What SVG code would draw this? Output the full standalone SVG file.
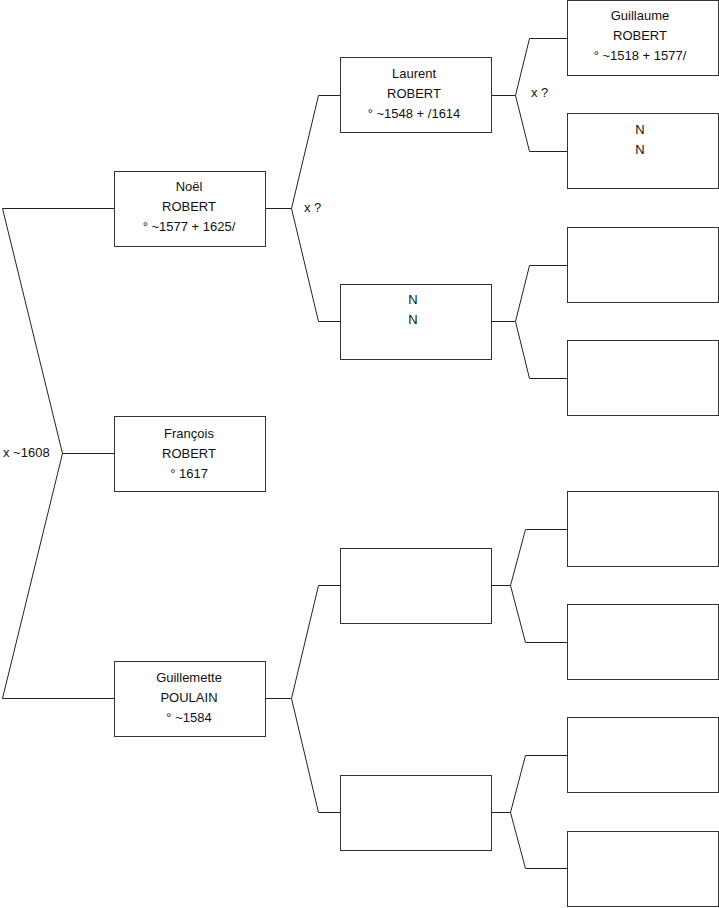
<svg xmlns="http://www.w3.org/2000/svg" width="719" height="908" viewBox="0 0 719 908">
<style>
.box{fill:#fff;stroke:#333;stroke-width:1}
.ln{fill:none;stroke:#222;stroke-width:1}
text{font-family:"Liberation Sans",Arial,sans-serif;font-size:13px;fill:#111}
.c{text-anchor:middle}
</style>
<rect width="719" height="908" fill="#fff"/>
<g id="connectors">
<polyline class="ln" points="114,208.5 2.5,208.5 62.5,453.5 2.5,698.5 114,698.5"/>
<line class="ln" x1="62.5" y1="453.5" x2="114" y2="453.5"/>
<polyline class="ln" points="341,95.5 318.5,95.5 291.5,208.5 318.5,321.5 341,321.5"/>
<line class="ln" x1="265" y1="208.5" x2="291.5" y2="208.5"/>
<polyline class="ln" points="341,585.5 318.5,585.5 291.5,698.5 318.5,812.5 341,812.5"/>
<line class="ln" x1="265" y1="698.5" x2="291.5" y2="698.5"/>
<polyline class="ln" points="567,38.5 529.5,38.5 515.5,95.5 529.5,151.5 567,151.5"/>
<line class="ln" x1="492" y1="95.5" x2="515.5" y2="95.5"/>
<polyline class="ln" points="567,265.5 529.5,265.5 515.5,321.5 529.5,378.5 567,378.5"/>
<line class="ln" x1="492" y1="321.5" x2="515.5" y2="321.5"/>
<polyline class="ln" points="567,529.5 525.5,529.5 510.5,585.5 525.5,642.5 567,642.5"/>
<line class="ln" x1="492" y1="585.5" x2="510.5" y2="585.5"/>
<polyline class="ln" points="567,755.5 525.5,755.5 510.5,812.5 525.5,868.5 567,868.5"/>
<line class="ln" x1="492" y1="812.5" x2="510.5" y2="812.5"/>
<text x="3" y="457">x ~1608</text>
<text x="304" y="212">x ?</text>
<text x="531" y="97">x ?</text>
</g>
<g id="noel"><rect class="box" x="114.5" y="171.5" width="151" height="75"/>
<text class="c" x="189" y="191">Noël</text><text class="c" x="189" y="211">ROBERT</text><text class="c" x="189" y="231">° ~1577 + 1625/</text></g>
<g id="francois"><rect class="box" x="114.5" y="416.5" width="151" height="75"/>
<text class="c" x="189" y="438">François</text><text class="c" x="189" y="458">ROBERT</text><text class="c" x="189" y="478">° 1617</text></g>
<g id="guillemette"><rect class="box" x="114.5" y="661.5" width="151" height="75"/>
<text class="c" x="189" y="682">Guillemette</text><text class="c" x="189" y="702">POULAIN</text><text class="c" x="189" y="722">° ~1584</text></g>
<g id="laurent"><rect class="box" x="340.5" y="57.5" width="151" height="75"/>
<text class="c" x="414" y="78">Laurent</text><text class="c" x="414" y="98">ROBERT</text><text class="c" x="414" y="118">° ~1548 + /1614</text></g>
<g id="nn1"><rect class="box" x="340.5" y="284.5" width="151" height="75"/>
<text class="c" x="413" y="304">N</text><text class="c" x="413" y="324">N</text></g>
<g id="p3"><rect class="box" x="340.5" y="548.5" width="151" height="75"/></g>
<g id="p4"><rect class="box" x="340.5" y="775.5" width="151" height="75"/></g>
<g id="guillaume"><rect class="box" x="567.5" y="0.5" width="151" height="75"/>
<text class="c" x="640" y="20">Guillaume</text><text class="c" x="640" y="40">ROBERT</text><text class="c" x="640" y="60">° ~1518 + 1577/</text></g>
<g id="nn2"><rect class="box" x="567.5" y="113.5" width="151" height="75"/>
<text class="c" x="640" y="134">N</text><text class="c" x="640" y="154">N</text></g>
<g id="g3"><rect class="box" x="567.5" y="227.5" width="151" height="75"/></g>
<g id="g4"><rect class="box" x="567.5" y="340.5" width="151" height="75"/></g>
<g id="g5"><rect class="box" x="567.5" y="491.5" width="151" height="75"/></g>
<g id="g6"><rect class="box" x="567.5" y="604.5" width="151" height="75"/></g>
<g id="g7"><rect class="box" x="567.5" y="717.5" width="151" height="75"/></g>
<g id="g8"><rect class="box" x="567.5" y="831.5" width="151" height="75"/></g>
</svg>
